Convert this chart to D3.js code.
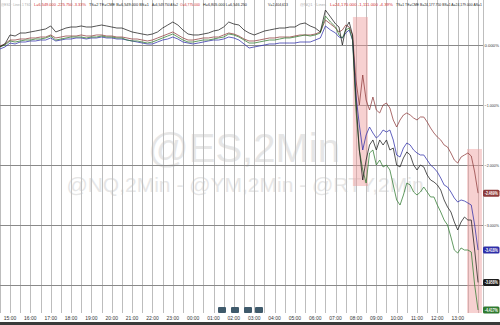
<!DOCTYPE html>
<html lang="en">
<head>
<meta charset="UTF-8">
<title>ES / NQ / YM / RTY 2Min</title>
<script src="https://d3js.org/d3.v7.min.js"></script>
<style>
  body { margin: 0; background: #fff; }
  svg { display: block; font-family: "Liberation Sans", Arial, sans-serif; }
</style>
</head>
<body>
<svg id="chart" width="500" height="325"></svg>
<script>
// hours since 15:00 : 15-min bars overnight, then 10-min bars from 07:00
const hoursA = d3.range(-0.5, 16.001, 0.25);
const hoursB = d3.range(1, 43).map(k => 16 + k / 6);
const hours = hoursA.concat(hoursB);

// % change
const black = [
  -0.033, 0.017, 0.167, 0.15, 0.2, 0.2, 0.217, 0.233, 0.25, 0.267, 0.317, 0.217, 0.25, 0.283, 0.3, 0.3, 0.317, 0.3, 0.3, 0.317,
  0.333, 0.317, 0.3, 0.283, 0.283, 0.25, 0.217, 0.2, 0.183, 0.167, 0.183, 0.217, 0.283, 0.333, 0.383, 0.333, 0.25, 0.183, 0.167, 0.167,
  0.183, 0.2, 0.233, 0.25, 0.3, 0.383, 0.35, 0.333, 0.25, 0.2, 0.167, 0.2, 0.233, 0.25, 0.267, 0.283, 0.283, 0.3, 0.3, 0.35,
  0.367, 0.317, 0.283, 0.217, 0.583, 0.467, 0.35,
  0.3, 0, 0.283, 0.383, 0.167, -0.917, -1.75, -2.25, -1.917, -1.667, -1.583, -1.75, -1.583, -1.667, -1.583, -1.75, -1.717, -2.0, -2.033, -1.883,
  -1.783, -1.833, -2.0, -2.083, -2.0, -2.033, -2.167, -2.25, -2.283, -2.333, -2.417, -2.583, -2.7, -2.783, -2.95, -3.083, -2.95, -2.867, -2.917, -2.917,
  -3.417, -3.958
];
const blue = [
  -0.067, -0.033, 0.033, 0.017, 0.05, 0.05, 0.067, 0.067, 0.083, 0.083, 0.117, 0.067, 0.083, 0.1, 0.1, 0.117, 0.117, 0.1, 0.117, 0.117,
  0.133, 0.117, 0.117, 0.1, 0.1, 0.083, 0.067, 0.05, 0.033, 0.017, 0.017, 0.05, 0.083, 0.1, 0.133, 0.1, 0.05, 0.033, 0.017, 0.033,
  0.05, 0.067, 0.083, 0.083, 0.1, 0.133, 0.117, 0.083, 0.017, -0.05, -0.033, -0.017, 0, 0.017, 0.017, 0.033, 0.033, 0.033, 0.033, 0.05,
  0.05, 0.05, 0.083, 0.117, 0.317, 0.25, 0.2,
  0.133, 0.117, 0.2, 0.25, 0.083, -0.833, -1.333, -1.75, -1.5, -1.367, -1.467, -1.55, -1.5, -1.417, -1.45, -1.417, -1.583, -1.833, -1.867, -1.717,
  -1.633, -1.667, -1.75, -1.8, -1.833, -1.833, -1.917, -2.0, -2.05, -2.117, -2.217, -2.333, -2.367, -2.45, -2.55, -2.617, -2.583, -2.6, -2.633, -2.667,
  -3.0, -3.418
];
const brown = [
  -0.017, 0.017, 0.083, 0.083, 0.1, 0.1, 0.117, 0.117, 0.133, 0.133, 0.167, 0.117, 0.133, 0.15, 0.15, 0.15, 0.167, 0.15, 0.15, 0.167,
  0.167, 0.15, 0.15, 0.133, 0.133, 0.117, 0.1, 0.1, 0.083, 0.067, 0.083, 0.117, 0.15, 0.183, 0.217, 0.167, 0.117, 0.083, 0.083, 0.1,
  0.117, 0.117, 0.133, 0.133, 0.167, 0.2, 0.183, 0.15, 0.1, 0.067, 0.067, 0.083, 0.1, 0.117, 0.117, 0.133, 0.133, 0.133, 0.15, 0.167,
  0.167, 0.167, 0.183, 0.217, 0.417, 0.35, 0.283,
  0.217, 0.25, 0.333, 0.3, 0.167, -0.583, -1.0, -0.5, -0.917, -1.083, -0.867, -1.083, -1.133, -1.0, -0.967, -1.05, -1.25, -1.367, -1.25, -1.167,
  -1.133, -1.167, -1.217, -1.25, -1.2, -1.2, -1.283, -1.383, -1.467, -1.533, -1.583, -1.667, -1.7, -1.8, -1.917, -1.967, -1.867, -1.833, -1.8, -1.85,
  -2.117, -2.469
];
const green = [
  -0.033, 0, 0.067, 0.05, 0.067, 0.083, 0.083, 0.1, 0.1, 0.117, 0.15, 0.083, 0.1, 0.117, 0.133, 0.133, 0.133, 0.117, 0.133, 0.133,
  0.15, 0.133, 0.133, 0.117, 0.117, 0.083, 0.067, 0.067, 0.05, 0.033, 0.05, 0.083, 0.117, 0.15, 0.183, 0.133, 0.083, 0.05, 0.05, 0.067,
  0.083, 0.083, 0.1, 0.117, 0.133, 0.183, 0.167, 0.133, 0.083, 0.033, 0.033, 0.05, 0.067, 0.083, 0.083, 0.1, 0.117, 0.117, 0.133, 0.15,
  0.167, 0.15, 0.167, 0.2, 0.483, 0.383, 0.3,
  0.167, 0.117, 0.25, 0.283, 0.083, -1.083, -1.75, -2.083, -2.3, -1.8, -1.75, -2.0, -1.917, -2.033, -2.0, -2.083, -2.333, -2.583, -2.667, -2.5,
  -2.3, -2.333, -2.45, -2.5, -2.45, -2.367, -2.45, -2.533, -2.533, -2.667, -2.783, -2.917, -3.0, -3.2, -3.417, -3.467, -3.383, -3.417, -3.417, -3.45,
  -4.0, -4.417
];

const seriesNames = ["brown", "blue", "green", "black"];
const seriesValues = [brown, blue, green, black];
const seriesColors = ["#8e3b3b", "#2e2ea8", "#2f7a2f", "#1c1c1c"];
const lastLabels = ["-2.469%", "-3.418%", "-3.958%", "-4.417%"];
const lastLabelOrder = ["brown", "blue", "black", "green"];

const pctTicks = [0, -1, -2, -3, -4];
const timeTicks = d3.range(0, 23, 1);
const shaded = [ { h0: 16.85, h1: 17.59, p0: 0.467, p1: -2.35 }, { h0: 22.46, h1: 23.19, p0: -1.733, p1: -4.467 } ];

const svg = d3.select("#chart");
const x = d3.scaleLinear().domain([0, 23]).range([10, 478.05]);
const y = d3.scaleLinear().domain([0, -4]).range([45, 285]);
const plotRight = 483, plotBottom = 313;

// squeeze a text horizontally so it fits in w px
function fit(sel, x0, y0, w) {
  sel.each(function () {
    const len = this.getComputedTextLength();
    const k = len > w ? w / len : 1;
    d3.select(this).attr("transform", `translate(${x0},${y0}) scale(${k},1)`);
  });
}

// watermark
svg.append("text").attr("x", 244).attr("y", 162).attr("text-anchor", "middle")
  .attr("font-size", 40).attr("fill", "#e6e6e6").text("@ES,2Min");
svg.append("text").attr("x", 245).attr("y", 192).attr("text-anchor", "middle")
  .attr("font-size", 21).attr("fill", "#e6e6e6").text("@NQ,2Min - @YM,2Min - @RTY,2Min");

// grid
svg.append("g").selectAll("line").data(d3.range(-0.5, 23.01, 0.5)).join("line")
  .attr("x1", d => Math.round(x(d)) + 0.5).attr("x2", d => Math.round(x(d)) + 0.5)
  .attr("y1", 0).attr("y2", plotBottom).attr("stroke", "#bdbdbd").attr("stroke-width", 1);
svg.append("g").selectAll("line").data(pctTicks).join("line")
  .attr("x1", 0).attr("x2", plotRight).attr("y1", d => y(d) + 0.5).attr("y2", d => y(d) + 0.5)
  .attr("stroke", "#8a8a8a").attr("stroke-width", 1);
svg.append("line").attr("x1", plotRight + 0.5).attr("x2", plotRight + 0.5).attr("y1", 0).attr("y2", plotBottom)
  .attr("stroke", "#bdbdbd");

// shaded boxes
svg.append("g").selectAll("rect").data(shaded).join("rect")
  .attr("x", d => x(d.h0)).attr("width", d => x(d.h1) - x(d.h0))
  .attr("y", d => y(d.p0)).attr("height", d => y(d.p1) - y(d.p0))
  .attr("fill", "#ee9a9a").attr("opacity", 0.45);

// lines
const line = d3.line().x((d, i) => x(hours[i])).y(d => y(d));
svg.append("g").selectAll("path").data(seriesValues).join("path")
  .attr("d", d => line(d)).attr("fill", "none")
  .attr("stroke", (d, i) => seriesColors[i]).attr("stroke-width", 0.75);

// right axis
svg.append("g").selectAll("text").data(pctTicks.slice(0, 4)).join("text")
  .attr("font-size", 4.4).attr("fill", "#333")
  .text(d => d3.format(".3f")(d) + "%")
  .each(function (d) { fit(d3.select(this), 484.5, y(d) + 1.8, 14.5); });

// last value tags
svg.append("g").selectAll("g").data(lastLabelOrder).join("g").each(function (name, i) {
  const idx = seriesNames.indexOf(name);
  const vals = seriesValues[idx];
  const yy = y(vals[vals.length - 1]);
  const g = d3.select(this);
  g.append("rect").attr("x", 483).attr("y", yy - 3.5).attr("width", 16.5).attr("height", 7).attr("rx", 1.5)
    .attr("fill", seriesColors[idx]);
  const t = g.append("text").attr("font-size", 4.6).attr("font-weight", "bold").attr("fill", "#fff").text(lastLabels[i]);
  fit(t, 484.8, yy + 1.7, 13);
});

// time axis
svg.append("g").selectAll("text").data(timeTicks).join("text")
  .attr("x", d => x(d)).attr("y", 320).attr("text-anchor", "middle").attr("font-size", 5).attr("fill", "#333")
  .text(d => d3.format("02")((15 + d) % 24) + ":00");
svg.append("rect").attr("x", 0).attr("y", 322).attr("width", 500).attr("height", 3).attr("fill", "#3a3a3a");
svg.append("g").selectAll("rect").data([218, 231, 244, 255]).join("rect")
  .attr("x", d => d).attr("y", 307).attr("width", 8).attr("height", 6).attr("rx", 1).attr("fill", "#3f5a6b");

// quote header
const header = [
  { t: "@ES1 · Lines 1 TSD", x: 1, w: 30, c: "#aaa" },
  { t: "L=6,549.000  -225.750  -3.33%", x: 34, w: 52, c: "#d03030" },
  { t: "TS=2   TE=CME   B=6,549.000   BS=1", x: 89, w: 60, c: "#222" },
  { t: "A=6,549.750  AS=2", x: 152, w: 26, c: "#222" },
  { t: "O=6,775.000", x: 180, w: 20, c: "#d03030" },
  { t: "H=6,805.000   L=6,546.250", x: 203, w: 44, c: "#222" },
  { t: "V=2,404,613", x: 268, w: 20, c: "#222" },
  { t: "@NQ1 · Lines", x: 300, w: 26, c: "#aaa" },
  { t: "L=24,170.000  -1,111.000  -4.39%", x: 330, w: 63, c: "#d03030" },
  { t: "TS=1  TE=CME  B=24,177.750  BS=1  A=24,179.000  AS=1", x: 396, w: 86, c: "#222" }
];
svg.append("g").selectAll("text").data(header).join("text")
  .attr("font-size", 4.4).attr("fill", d => d.c).text(d => d.t)
  .each(function (d) { fit(d3.select(this), d.x, 6, d.w); });
</script>
</body>
</html>
